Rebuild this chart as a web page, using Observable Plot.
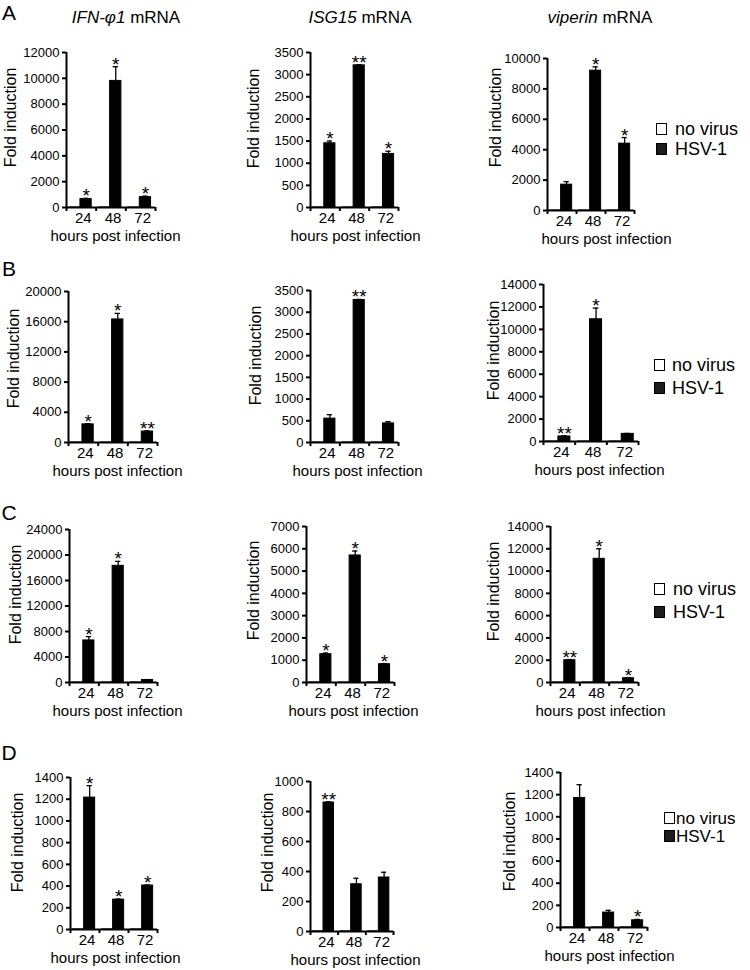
<!DOCTYPE html>
<html><head><meta charset="utf-8">
<script src="https://cdn.jsdelivr.net/npm/d3@7"></script>
<script src="https://cdn.jsdelivr.net/npm/@observablehq/plot@0.6"></script>
<style>
body{margin:0;background:#fff;}
#fig{position:relative;width:750px;height:970px;font-family:"Liberation Sans",Arial,sans-serif;color:#000;overflow:hidden;background:#fff}
.t{position:absolute;transform:translate(-50%,-50%);line-height:1;white-space:nowrap}
.l{position:absolute;transform:translateY(-50%);line-height:1;white-space:nowrap}
.box{position:absolute;box-sizing:border-box;border:1.5px solid #000}
</style></head><body><div id="fig"></div>
<script>
// ---------- data ----------
const hours = ["24", "48", "72"];
const conditions = ["no virus", "HSV-1"];
const genes = ["IFN-φ1", "ISG15", "viperin"];
const rowsLetters = ["A", "B", "C", "D"];
const noVirus = [1, 1, 1];

// Row A
const hsvA1 = [650, 9800, 800];   const errA1 = [60, 1100, 80];   const starA1 = ["*", "*", "*"];
const hsvA2 = [1450, 3210, 1210]; const errA2 = [50, 15, 60];     const starA2 = ["*", "**", "*"];
const hsvA3 = [1700, 9200, 4400]; const errA3 = [200, 250, 400];  const starA3 = ["", "*", "*"];
// Row B
const hsvB1 = [2400, 16300, 1450]; const errB1 = [100, 800, 100]; const starB1 = ["*", "*", "**"];
const hsvB2 = [550, 3280, 440];    const errB2 = [90, 15, 40];    const starB2 = ["", "**", ""];
const hsvB3 = [450, 10900, 680];   const errB3 = [50, 1000, 40];  const starB3 = ["**", "*", ""];
// Row C
const hsvC1 = [6600, 18300, 400];  const errC1 = [600, 700, 50];  const starC1 = ["*", "*", ""];
const hsvC2 = [1270, 5700, 820];   const errC2 = [50, 200, 30];   const starC2 = ["*", "*", "*"];
const hsvC3 = [2000, 11100, 380];  const errC3 = [60, 900, 60];   const starC3 = ["**", "*", "*"];
// Row D
const hsvD1 = [1215, 275, 405];    const errD1 = [110, 5, 5];     const starD1 = ["*", "*", "*"];
const hsvD2 = [860, 315, 360];     const errD2 = [5, 40, 35];     const starD2 = ["**", "", ""];
const hsvD3 = [1170, 135, 65];     const errD3 = [120, 20, 8];    const starD3 = ["", "", "*"];

// y tick values
const ticksA1 = [0, 2000, 4000, 6000, 8000, 10000, 12000];
const ticksA2 = [0, 500, 1000, 1500, 2000, 2500, 3000, 3500];
const ticksA3 = [0, 2000, 4000, 6000, 8000, 10000];
const ticksB1 = [0, 4000, 8000, 12000, 16000, 20000];
const ticksB2 = [0, 500, 1000, 1500, 2000, 2500, 3000, 3500];
const ticksB3 = [0, 2000, 4000, 6000, 8000, 10000, 12000, 14000];
const ticksC1 = [0, 4000, 8000, 12000, 16000, 20000, 24000];
const ticksC2 = [0, 1000, 2000, 3000, 4000, 5000, 6000, 7000];
const ticksC3 = [0, 2000, 4000, 6000, 8000, 10000, 12000, 14000];
const ticksD1 = [0, 200, 400, 600, 800, 1000, 1200, 1400];
const ticksD2 = [0, 200, 400, 600, 800, 1000];
const ticksD3 = [0, 200, 400, 600, 800, 1000, 1200, 1400];

const series = {
  A1: {hsv: hsvA1, err: errA1, star: starA1, ticks: ticksA1},
  A2: {hsv: hsvA2, err: errA2, star: starA2, ticks: ticksA2},
  A3: {hsv: hsvA3, err: errA3, star: starA3, ticks: ticksA3},
  B1: {hsv: hsvB1, err: errB1, star: starB1, ticks: ticksB1},
  B2: {hsv: hsvB2, err: errB2, star: starB2, ticks: ticksB2},
  B3: {hsv: hsvB3, err: errB3, star: starB3, ticks: ticksB3},
  C1: {hsv: hsvC1, err: errC1, star: starC1, ticks: ticksC1},
  C2: {hsv: hsvC2, err: errC2, star: starC2, ticks: ticksC2},
  C3: {hsv: hsvC3, err: errC3, star: starC3, ticks: ticksC3},
  D1: {hsv: hsvD1, err: errD1, star: starD1, ticks: ticksD1},
  D2: {hsv: hsvD2, err: errD2, star: starD2, ticks: ticksD2},
  D3: {hsv: hsvD3, err: errD3, star: starD3, ticks: ticksD3}
};

// ---------- layout (pixels) ----------
const layout = {
  A1: {ax: 66,  right: 155, top: 52,  zero: 207, foldX: 15,  foldY: 117, hoursX: 115},
  A2: {ax: 310, right: 398, top: 52,  zero: 207, foldX: 258, foldY: 118, hoursX: 355},
  A3: {ax: 547, right: 634, top: 58,  zero: 210, foldX: 500, foldY: 117, hoursX: 606},
  B1: {ax: 68,  right: 157, top: 291, zero: 442, foldX: 18,  foldY: 358, hoursX: 117},
  B2: {ax: 310, right: 398, top: 290, zero: 442, foldX: 260, foldY: 355, hoursX: 357},
  B3: {ax: 543, right: 638, top: 284, zero: 441, foldX: 498, foldY: 350, hoursX: 599},
  C1: {ax: 69,  right: 157, top: 529, zero: 682, foldX: 20,  foldY: 594, hoursX: 117},
  C2: {ax: 306, right: 394, top: 526, zero: 682, foldX: 258, foldY: 590, hoursX: 353},
  C3: {ax: 550, right: 638, top: 526, zero: 682, foldX: 498, foldY: 591, hoursX: 600},
  D1: {ax: 70,  right: 157, top: 777, zero: 929, foldX: 22,  foldY: 842, hoursX: 115},
  D2: {ax: 310, right: 393, top: 781, zero: 931, foldX: 272, foldY: 842, hoursX: 355},
  D3: {ax: 560, right: 647, top: 772, zero: 927, foldX: 514, foldY: 841, hoursX: 609}
};
const colLefts = [0, 232, 482];
const FONT = '"Liberation Sans", Arial, sans-serif';

const fig = document.getElementById("fig");

function drawPanel(key) {
  const s = series[key], L = layout[key];
  const colLeft = colLefts[+key[1] - 1];
  const yMax = s.ticks[s.ticks.length - 1];
  const svgTop = L.top - 22;
  const mL = L.ax - colLeft, mR = 45, mT = L.top - svgTop, mB = 46;
  const width = mL + (L.right - L.ax) + mR;
  const height = mT + (L.zero - L.top) + mB;
  const rows = hours.flatMap((h, i) => [
    {hour: h, i, cond: conditions[0], value: noVirus[i], err: 0, star: ""},
    {hour: h, i, cond: conditions[1], value: s.hsv[i], err: s.err[i], star: s.star[i]}
  ]);
  const hsvRows = rows.filter(d => d.cond === "HSV-1");
  const barStart = {"no virus": 0.09, "HSV-1": 0.47};
  const barW = 0.38;
  const center = d => d.i + barStart["HSV-1"] + barW / 2;
  const svg = Plot.plot({
    width, height,
    marginLeft: mL, marginRight: mR, marginTop: mT, marginBottom: mB,
    x: {type: "linear", domain: [0, hours.length]},
    y: {type: "linear", domain: [0, yMax]},
    style: {fontFamily: FONT, color: "#000", background: "transparent", overflow: "visible"},
    marks: [
      Plot.rectY(rows, {
        x1: d => d.i + barStart[d.cond], x2: d => d.i + barStart[d.cond] + barW,
        y1: 0, y2: "value",
        fill: d => d.cond === "HSV-1" ? "#000" : "#fff", stroke: "#000", strokeWidth: 1
      }),
      Plot.ruleX(hsvRows, {x: center, y1: "value", y2: d => d.value + d.err, strokeWidth: 1.3}),
      Plot.ruleY(hsvRows, {y: d => d.value + d.err, x1: d => center(d) - 0.09, x2: d => center(d) + 0.09, strokeWidth: 1.3}),
      Plot.text(hsvRows.filter(d => d.star), {
        x: center, y: d => d.value + d.err, text: "star",
        lineAnchor: "bottom", dy: 4, fontSize: 19
      }),
      Plot.ruleX([0], {strokeWidth: 2}),
      Plot.ruleY([0], {strokeWidth: 2}),
      Plot.axisY({ticks: s.ticks, tickSize: 4, tickPadding: 3, tickFormat: d3.format("d"), fontSize: 13, strokeWidth: 2, label: null}),
      Plot.axisX({ticks: [0, 1, 2, 3], tickSize: 4, tickFormat: () => "", strokeWidth: 2, label: null}),
      Plot.axisX({ticks: hours.map((h, i) => i + 0.5), tickSize: 0, tickPadding: 5, tickFormat: d => hours[Math.floor(d)], fontSize: 15, label: null, dx: 2}),
      Plot.text(["Fold induction"], {
        frameAnchor: "left", textAnchor: "middle", rotate: -90, lineAnchor: "bottom", fontSize: 16,
        dx: -(L.ax - L.foldX), dy: L.foldY - (L.top + L.zero) / 2
      }),
      Plot.text(["hours post infection"], {
        frameAnchor: "bottom", textAnchor: "middle", lineAnchor: "middle", fontSize: 15,
        dy: 29, dx: L.hoursX - (L.ax + L.right) / 2
      })
    ]
  });
  svg.style.position = "absolute";
  svg.style.left = colLeft + "px";
  svg.style.top = svgTop + "px";
  fig.appendChild(svg);
}

Object.keys(layout).forEach(drawPanel);

function addText(html, cx, cy, size, cls = "t") {
  const d = document.createElement("div");
  d.className = cls;
  d.style.left = cx + "px";
  d.style.top = cy + "px";
  d.style.fontSize = size + "px";
  d.innerHTML = html;
  fig.appendChild(d);
}

// column titles
addText(`<i>${genes[0]}</i> mRNA`, 126, 17, 17);
addText(`<i>${genes[1]}</i> mRNA`, 360, 17, 17);
addText(`<i>${genes[2]}</i> mRNA`, 600, 17, 17);

// row letters
const letterY = [12, 268, 512, 752];
rowsLetters.forEach((l, i) => addText(l, 9, letterY[i], 21));

// legends
const legendPos = [
  {box: 656, text: 675, y1: 129, y2: 149, size: 18},
  {box: 654, text: 672, y1: 365, y2: 388, size: 18},
  {box: 654, text: 673, y1: 589, y2: 612, size: 18},
  {box: 664, text: 676, y1: 818, y2: 836, size: 17}
];
legendPos.forEach(p => {
  [[conditions[0], p.y1, "#fff"], [conditions[1], p.y2, "#1c1c1c"]].forEach(([label, y, fill]) => {
    const b = document.createElement("div");
    b.className = "box";
    b.style.left = p.box + "px";
    b.style.top = (y - 6) + "px";
    b.style.width = "11px";
    b.style.height = "12px";
    b.style.background = fill;
    fig.appendChild(b);
    addText(label, p.text, y, p.size, "l");
  });
});
</script></body></html>
